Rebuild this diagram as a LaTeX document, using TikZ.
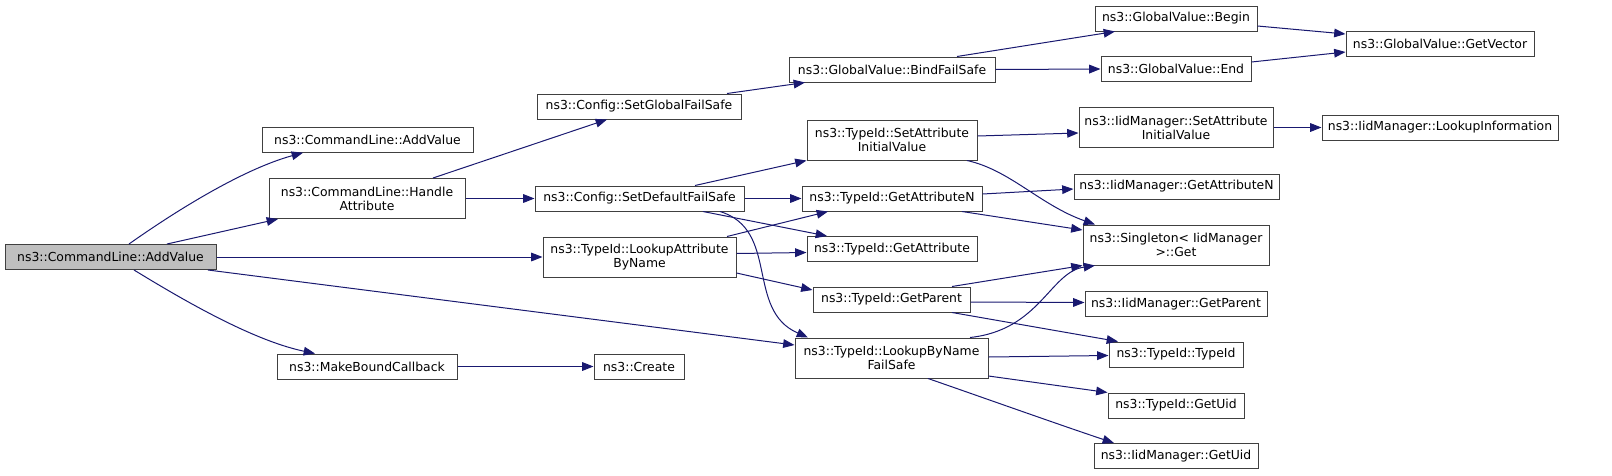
\documentclass[tikz,border=0pt]{standalone}
\usepackage{fontspec}
\setmainfont{DejaVu Sans}
\usetikzlibrary{arrows.meta}
\definecolor{callblue}{HTML}{191970}
\definecolor{boxline}{HTML}{404040}
\definecolor{rootfill}{HTML}{BFBFBF}
\tikzset{
  fn/.style={draw=boxline,line width=0.75pt,fill=white,inner sep=0pt,align=center,
    minimum height=18.75pt,font=\fontsize{9.3}{10.5}\selectfont},
  fntwo/.style={fn,minimum height=30pt},
  fnroot/.style={fn,fill=rootfill},
  call/.style={draw=callblue,line width=0.75pt,-{Triangle[length=8.5pt,width=6.5pt,fill=callblue]}},
}
\begin{document}
\begin{tikzpicture}[x=0.75pt,y=-0.75pt]
  \useasboundingbox (0,0) rectangle (1612,475);
  % first two columns
  \node[fnroot,minimum width=158.25pt] (root) at (110.5,257) {ns3::CommandLine::AddValue};
  \node[fn,minimum width=158.25pt] (clAdd) at (367.5,139.7) {ns3::CommandLine::AddValue};
  \node[fntwo,minimum width=147pt] (clHandle) at (367,198.5) {ns3::CommandLine::Handle\\Attribute};
  \node[fn,minimum width=135pt] (mkCb) at (367,366.5) {ns3::MakeBoundCallback};

  % third column
  \node[fn,minimum width=153pt] (setGlobal) at (639,106.5) {ns3::Config::SetGlobalFailSafe};
  \node[fn,minimum width=156.75pt] (setDefault) at (639.5,198.5) {ns3::Config::SetDefaultFailSafe};
  \node[fntwo,minimum width=144.75pt] (lookupAttr) at (639.5,257) {ns3::TypeId::LookupAttribute\\ByName};
  \node[fn,minimum width=67.5pt] (create) at (639,366.5) {ns3::Create};

  % fourth column
  \node[fn,minimum width=154.5pt] (bindFs) at (892,69.5) {ns3::GlobalValue::BindFailSafe};
  \node[fntwo,minimum width=127.5pt] (tidSetAttr) at (892,140) {ns3::TypeId::SetAttribute\\InitialValue};
  \node[fn,minimum width=135pt] (tidGetAttrN) at (892,198.5) {ns3::TypeId::GetAttributeN};
  \node[fn,minimum width=127.5pt] (tidGetAttr) at (892,249) {ns3::TypeId::GetAttribute};
  \node[fn,minimum width=117.75pt] (tidGetParent) at (891.5,299.5) {ns3::TypeId::GetParent};
  \node[fntwo,minimum width=144.75pt] (lookupByName) at (891.5,358) {ns3::TypeId::LookupByName\\FailSafe};

  % fifth column
  \node[fn,minimum width=121.5pt] (gvBegin) at (1176,18.5) {ns3::GlobalValue::Begin};
  \node[fn,minimum width=112.5pt] (gvEnd) at (1176,69) {ns3::GlobalValue::End};
  \node[fntwo,minimum width=145.5pt] (iidSetAttr) at (1176,127.5) {ns3::IidManager::SetAttribute\\InitialValue};
  \node[fn,minimum width=153.75pt] (iidGetAttrN) at (1176.5,186.5) {ns3::IidManager::GetAttributeN};
  \node[fntwo,minimum width=139.5pt] (singleton) at (1176,245) {ns3::Singleton< IidManager\\ >::Get};
  \node[fn,minimum width=136.5pt] (iidGetParent) at (1176,304) {ns3::IidManager::GetParent};
  \node[fn,minimum width=100.5pt] (tidTypeId) at (1176,354.5) {ns3::TypeId::TypeId};
  \node[fn,minimum width=102pt] (tidGetUid) at (1176,405.5) {ns3::TypeId::GetUid};
  \node[fn,minimum width=123pt] (iidGetUid) at (1176,456) {ns3::IidManager::GetUid};

  % last column
  \node[fn,minimum width=141pt] (gvGetVector) at (1440,43.5) {ns3::GlobalValue::GetVector};
  \node[fn,minimum width=177pt] (iidLookupInfo) at (1440,127.5) {ns3::IidManager::LookupInformation};

  % calls
  \draw[call] (root.north -| 129,0) .. controls (170,215) and (240,170) .. (clAdd.south -| 303,0);
  \draw[call] (root.north -| 167,0) -- (clHandle.south -| 278,0);
  \draw[call] (root.east) -- (lookupAttr.west);
  \draw[call] (root.south -| 208,0) -- (lookupByName.west |- 0,345);
  \draw[call] (root.south -| 134,0) .. controls (175,295) and (250,340) .. (mkCb.north -| 315,0);
  \draw[call] (clHandle.north -| 433,0) -- (setGlobal.south -| 607,0);
  \draw[call] (clHandle.east) -- (setDefault.west);
  \draw[call] (mkCb.east) -- (create.west);
  \draw[call] (setGlobal.north -| 727,0) -- (bindFs.south -| 805,0);
  \draw[call] (bindFs.north -| 957,0) -- (gvBegin.south -| 1115,0);
  \draw[call] (bindFs.east) -- (gvEnd.west);
  \draw[call] (gvBegin.east |- 0,26) -- (gvGetVector.west |- 0,34);
  \draw[call] (gvEnd.east |- 0,62) -- (gvGetVector.west |- 0,52);
  \draw[call] (setDefault.north -| 695,0) -- (tidSetAttr.south west);
  \draw[call] (setDefault.east) -- (tidGetAttrN.west);
  \draw[call] (setDefault.south -| 703,0) -- (tidGetAttr.north -| 827,0);
  \draw[call] (setDefault.south -| 720,0) .. controls (780,230) and (745,310) .. (lookupByName.north -| 808,0);
  \draw[call] (lookupAttr.north -| 727,0) -- (tidGetAttrN.south -| 828,0);
  \draw[call] (lookupAttr.east |- 0,253.5) -- (tidGetAttr.west |- 0,252.5);
  \draw[call] (lookupAttr.east |- 0,273) -- (tidGetParent.west |- 0,290);
  \draw[call] (tidSetAttr.east |- 0,136) -- (iidSetAttr.west |- 0,133);
  \draw[call] (tidSetAttr.south -| 967,0) .. controls (1010,170) and (1040,205) .. (singleton.north -| 1095,0);
  \draw[call] (iidSetAttr.east) -- (iidLookupInfo.west);
  \draw[call] (tidGetAttrN.east |- 0,194) -- (iidGetAttrN.west |- 0,189);
  \draw[call] (tidGetAttrN.south -| 962,0) -- (singleton.west |- 0,230);
  \draw[call] (tidGetParent.north -| 952,0) -- (singleton.south west);
  \draw[call] (tidGetParent.east |- 0,302) -- (iidGetParent.west |- 0,302.5);
  \draw[call] (tidGetParent.south -| 952,0) -- (tidTypeId.north -| 1118,0);
  \draw[call] (lookupByName.north -| 970,0) .. controls (1040,330) and (1050,272) .. (singleton.south -| 1095,0);
  \draw[call] (lookupByName.east |- 0,357) -- (tidTypeId.west |- 0,355.5);
  \draw[call] (lookupByName.east |- 0,376) -- (tidGetUid.north west);
  \draw[call] (lookupByName.south -| 928,0) .. controls (970,393) and (1060,425) .. (iidGetUid.north -| 1114,0);
\end{tikzpicture}
\end{document}
